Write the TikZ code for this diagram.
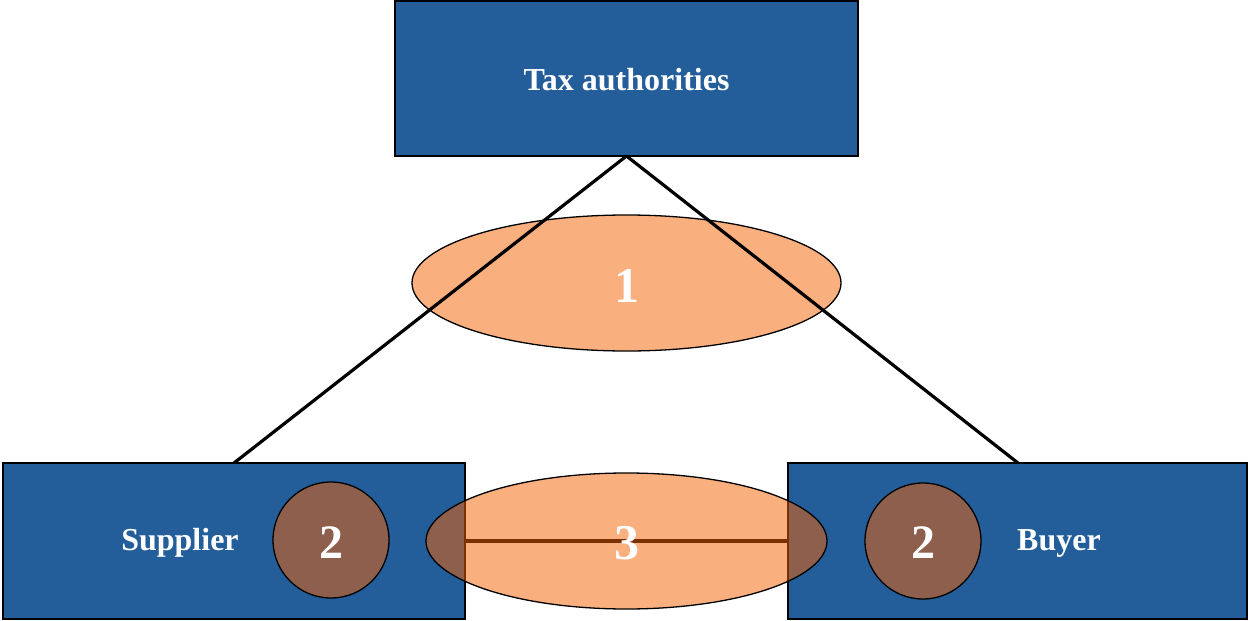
\documentclass[tikz,border=0pt]{standalone}
\usepackage{fontspec}
\setmainfont{Liberation Serif}
\usetikzlibrary{shapes.geometric}
\definecolor{boxblue}{RGB}{35,94,154}
\definecolor{oran}{RGB}{247,97,0}
\begin{document}
\begin{tikzpicture}[x=1pt,y=-1pt,
  party/.style={draw=black,line width=1.5pt,fill=boxblue},
  lbl/.style={text=white,font=\bfseries\fontsize{32}{36}\selectfont,inner sep=0pt},
  blob/.style={ellipse,draw=black,line width=1.3pt,fill=oran,fill opacity=0.5,text opacity=1,text=white,font=\bfseries\fontsize{50}{54}\selectfont,inner sep=0pt},
  num/.style={circle,draw=black,line width=1.3pt,fill=oran,fill opacity=0.5,minimum size=116pt},
  numtext/.style={text=white,font=\bfseries\fontsize{48}{52}\selectfont,inner sep=0pt},
  link/.style={line width=3.2pt,black}]
\useasboundingbox (0,0) rectangle (1248,621);
\fill[white] (0,0) rectangle (1248,621);
% boxes
\draw[party] (395,1) rectangle (858,156);
\node[lbl] (tax) at (626.5,80) {Tax authorities};
\draw[party] (3,463) rectangle (465,619);
\node[lbl] (sup) at (180,543) {Supplier};
\draw[party] (788,463) rectangle (1247,619);
\node[lbl] (buy) at (1059,543) {Buyer};
\coordinate (taxS) at (626.5,156);
\coordinate (supN) at (234,463);
\coordinate (buyN) at (1018,463);
\coordinate (supE) at (465,541);
\coordinate (buyW) at (788,541);
% circles 2
\node[num] (c2a) at (331,540) {};
\node[numtext] at (331,543) {2};
\node[num] (c2b) at (923,541) {};
\node[numtext] at (923,543) {2};
% line 3 and ellipse 3
\draw[link] (supE) -- (buyW);
\node[blob,minimum width=401pt,minimum height=136pt] (e3) at (626.5,541) {};
\node[numtext,font=\bfseries\fontsize{50}{54}\selectfont] at (626.5,543) {3};
% ellipse 1
\node[blob,minimum width=429pt,minimum height=136pt] (e1) at (626.5,283) {};
\draw[link] (taxS) -- (supN);
\draw[link] (taxS) -- (buyN);
\node[numtext,font=\bfseries\fontsize{50}{54}\selectfont] at (626.5,286) {1};
\end{tikzpicture}
\end{document}
